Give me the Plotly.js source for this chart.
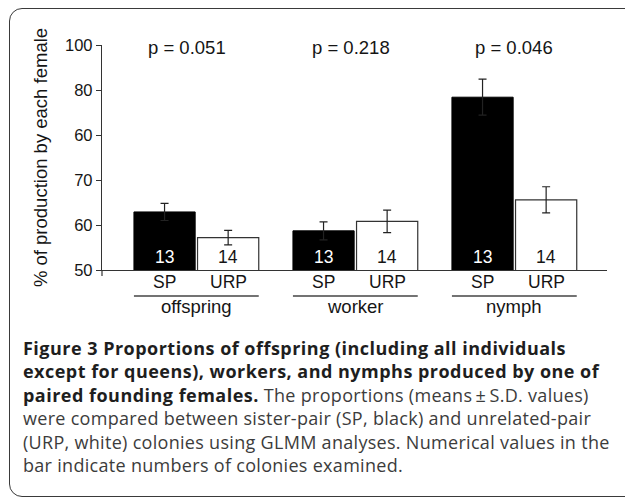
<!DOCTYPE html>
<html>
<head>
<meta charset="utf-8">
<script src="https://cdn.plot.ly/plotly-3.0.1.min.js"></script>
<style>
  html, body { margin: 0; padding: 0; background: #fff; }
  #wrap { position: relative; width: 625px; height: 499px; overflow: hidden; }
  #chart { position: absolute; left: 0; top: 0; width: 625px; height: 499px; }
  #frame { position: absolute; left: 9px; top: 8px; width: 640px; height: 489px;
           border: 1.5px solid #3a3a3a; border-radius: 13px; pointer-events: none; box-sizing: border-box; }
</style>
</head>
<body>
<div id="wrap">
  <div id="chart"></div>
  <div id="frame"></div>
</div>
<script>
// ---- data ----
const groups = ['offspring', 'worker', 'nymph'];
const seriesNames = ['SP', 'URP'];
const pValues = ['p = 0.051', 'p = 0.218', 'p = 0.046'];
const spMean = [62.9, 58.7, 88.4];
const spSD = [1.9, 2.0, 4.0];
const urpMean = [57.2, 60.8, 65.6];
const urpSD = [1.6, 2.5, 2.9];
const spN = [13, 13, 13];
const urpN = [14, 14, 14];
const yTickVals = [50, 60, 70, 80, 90, 100];
const yTickText = ['50', '60', '70', '60', '80', '100'];
const yTitle = '% of production by each female';
const captionBold = [
  'Figure 3 Proportions of offspring (including all individuals',
  'except for queens), workers, and nymphs produced by one of',
  'paired founding females.'
];
const captionRegular = [
  ' The proportions (means\u2009\u00b1\u2009S.D. values)',
  'were compared between sister-pair (SP, black) and unrelated-pair',
  '(URP, white) colonies using GLMM analyses. Numerical values in the',
  'bar indicate numbers of colonies examined.'
];

// ---- layout helpers (style only) ----
const W = 625, H = 499;
const M = {l: 102, r: 18.3, t: 45, b: 229};
const plotH = H - M.t - M.b;
const pyToPaper = py => 1 - (py - M.t) / plotH;
const pxToPaper = px => (px - M.l) / (W - M.l - M.r);
const off = 0.2, bw = 0.385;
const pShift = [-9, -4.5, 0];
const idx = groups.map((g, i) => i);
const spX = idx.map(i => i - off);
const urpX = idx.map(i => i + off);

const FONT = '"Liberation Sans", Arial, Helvetica, sans-serif';
const CAPFONT = '"Open Sans", "Noto Sans", sans-serif';
const textCol = '#151515';
const lineCol = '#333';

const traces = [
  {
    type: 'bar', name: seriesNames[0], x: spX, y: spMean, width: bw,
    marker: {color: '#000', line: {color: '#000', width: 1}},
    error_y: {type: 'data', array: spSD, visible: true, color: '#222', thickness: 1.2, width: 4},
    hoverinfo: 'y'
  },
  {
    type: 'bar', name: seriesNames[1], x: urpX, y: urpMean, width: bw,
    marker: {color: '#fff', line: {color: lineCol, width: 1.2}},
    error_y: {type: 'data', array: urpSD, visible: true, color: '#222', thickness: 1.2, width: 4},
    hoverinfo: 'y'
  }
];

const annotations = [];
groups.forEach((g, i) => {
  annotations.push({xref: 'x', yref: 'paper', x: i, xshift: pShift[i], y: pyToPaper(47.1), text: pValues[i],
    showarrow: false, xanchor: 'center', yanchor: 'middle', font: {family: FONT, size: 18.5, color: textCol}});
  annotations.push({xref: 'x', yref: 'y', x: spX[i], y: 52.8, text: String(spN[i]),
    showarrow: false, xanchor: 'center', yanchor: 'middle', font: {family: FONT, size: 17.5, color: '#fff'}});
  annotations.push({xref: 'x', yref: 'y', x: urpX[i], y: 52.8, text: String(urpN[i]),
    showarrow: false, xanchor: 'center', yanchor: 'middle', font: {family: FONT, size: 17.5, color: textCol}});
  annotations.push({xref: 'x', yref: 'paper', x: spX[i], y: pyToPaper(282.4), text: seriesNames[0],
    showarrow: false, xanchor: 'center', yanchor: 'middle', font: {family: FONT, size: 17.5, color: textCol}});
  annotations.push({xref: 'x', yref: 'paper', x: urpX[i], y: pyToPaper(282.4), text: seriesNames[1],
    showarrow: false, xanchor: 'center', yanchor: 'middle', font: {family: FONT, size: 17.5, color: textCol}});
  annotations.push({xref: 'x', yref: 'paper', x: i, y: pyToPaper(306.4), text: g,
    showarrow: false, xanchor: 'center', yanchor: 'middle', font: {family: FONT, size: 18.5, color: textCol}});
});
const boldSpan = t => '<span style="letter-spacing:0.48px"><b>' + t + '</b></span>';
const regSpan = t => '<span style="color:#3c3c3c;letter-spacing:0.3px">' + t + '</span>';
const captionText = [
  boldSpan(captionBold[0]),
  boldSpan(captionBold[1]),
  boldSpan(captionBold[2]) + regSpan(captionRegular[0]),
  regSpan(captionRegular[1]),
  regSpan(captionRegular[2]),
  regSpan(captionRegular[3])
].join('<br>');
annotations.push({
  xref: 'paper', yref: 'paper', x: pxToPaper(21), y: pyToPaper(406.5),
  xanchor: 'left', yanchor: 'middle', align: 'left', showarrow: false,
  text: captionText, font: {family: CAPFONT, size: 18, color: '#1e1e1e'}
});

const shapes = idx.map(i => ({
  type: 'line', xref: 'x', yref: 'paper',
  x0: i - off - bw / 2, x1: i + off + bw / 2, y0: pyToPaper(296), y1: pyToPaper(296),
  line: {color: '#444', width: 1.5}
}));
// y-axis line continuing a little below the baseline
shapes.push({type: 'line', xref: 'paper', yref: 'paper', x0: 0, x1: 0, y0: 0, y1: pyToPaper(276),
  line: {color: lineCol, width: 1.2}});

const layout = {
  width: W, height: H,
  margin: M,
  paper_bgcolor: 'rgba(0,0,0,0)', plot_bgcolor: 'rgba(0,0,0,0)',
  showlegend: false,
  barmode: 'overlay',
  font: {family: FONT, color: textCol},
  xaxis: {
    range: [-0.5934, 2.5828], showticklabels: false, ticks: '', showgrid: false, zeroline: false,
    showline: true, linecolor: lineCol, linewidth: 1.2, fixedrange: true
  },
  yaxis: {
    range: [50, 100], tickvals: yTickVals, ticktext: yTickText,
    ticks: 'outside', ticklen: 5, tickwidth: 1, tickcolor: lineCol,
    showline: true, linecolor: lineCol, linewidth: 1.2, showgrid: false, zeroline: false,
    tickfont: {family: FONT, size: 16.5, color: textCol},
    title: {text: yTitle, font: {family: FONT, size: 18.5, color: textCol}, standoff: 12},
    fixedrange: true
  },
  annotations: annotations,
  shapes: shapes
};

Plotly.newPlot('chart', traces, layout, {displayModeBar: false, staticPlot: true});
</script>
</body>
</html>
